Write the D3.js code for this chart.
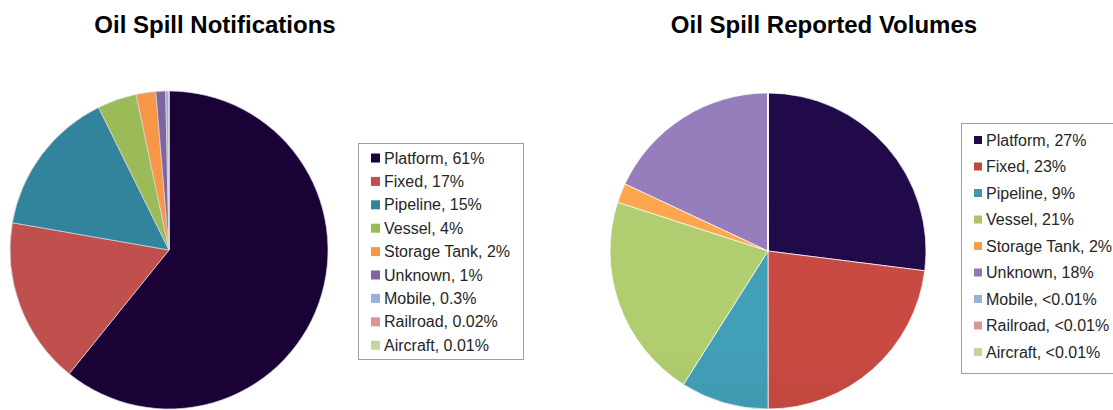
<!DOCTYPE html>
<html>
<head>
<meta charset="utf-8">
<script src="https://cdn.jsdelivr.net/npm/d3@7/dist/d3.min.js"></script>
<style>
  html, body { margin: 0; padding: 0; background: #fff; }
  svg { display: block; font-family: Arial, "Liberation Sans", sans-serif; }
</style>
</head>
<body>
<svg id="chart" width="1113" height="410"></svg>
<script>
// Spill source categories, shared by both pies
const categories = ["Platform", "Fixed", "Pipeline", "Vessel", "Storage Tank", "Unknown", "Mobile", "Railroad", "Aircraft"];

// Share of notifications (%)
const notificationValues = [61, 17, 15, 4, 2, 1, 0.3, 0.02, 0.01];
const notificationLabels = ["61%", "17%", "15%", "4%", "2%", "1%", "0.3%", "0.02%", "0.01%"];

// Share of reported volumes (%); the last three are below 0.01%
const volumeValues = [27, 23, 9, 21, 2, 18, 0.005, 0.005, 0.005];
const volumeLabels = ["27%", "23%", "9%", "21%", "2%", "18%", "<0.01%", "<0.01%", "<0.01%"];

const titles = ["Oil Spill Notifications", "Oil Spill Reported Volumes"];

const colorsLeft  = ["#1a0236", "#c0504d", "#31849b", "#9bbb59", "#f79646", "#8064a2", "#95b3d7", "#d99694", "#c3d69b"];
const colorsRight = ["#1f0a47", "#c0473f", "#3f98b0", "#a9c46a", "#f7a04c", "#9079b4", "#95b3d7", "#d99694", "#c3d69b"];

const svg = d3.select("#chart");
const defs = svg.append("defs");

const panels = [
  { values: notificationValues, labels: notificationLabels, colors: colorsLeft,
    cx: 169, cy: 250, r: 159, title: titles[0], titleX: 215,
    legend: { x: 358, y: 143, w: 165, h: 216, row0: 158, step: 23.4, sq: 9 }, shade: false },
  { values: volumeValues, labels: volumeLabels, colors: colorsRight,
    cx: 768, cy: 251, r: 158, title: titles[1], titleX: 824,
    legend: { x: 961, y: 123, w: 160, h: 250, row0: 140, step: 26.5, sq: 8 }, shade: true }
];

panels.forEach((p, pi) => {
  const pie = d3.pie().sort(null).value(d => d)
    .startAngle(0).endAngle(2 * Math.PI);
  const arc = d3.arc().innerRadius(0).outerRadius(p.r);
  const color = d3.scaleOrdinal().domain(categories).range(p.colors);

  // Vertical shading for the volumes pie
  const fillFor = (i) => {
    if (!p.shade) return color(categories[i]);
    const id = `shade-${pi}-${i}`;
    const base = d3.color(color(categories[i]));
    const g = defs.append("linearGradient")
      .attr("id", id).attr("gradientUnits", "userSpaceOnUse")
      .attr("x1", 0).attr("y1", p.cy - p.r).attr("x2", 0).attr("y2", p.cy + p.r);
    g.append("stop").attr("offset", "0%").attr("stop-color", base.brighter(0.12));
    g.append("stop").attr("offset", "100%").attr("stop-color", base.darker(0.45));
    return `url(#${id})`;
  };

  const g = svg.append("g").attr("transform", `translate(${p.cx},${p.cy})`);
  g.selectAll("path")
    .data(pie(p.values))
    .join("path")
    .attr("d", arc)
    .attr("fill", (d, i) => fillFor(i))
    .attr("stroke", p.shade ? "#ffffff" : "#d8d8e0")
    .attr("stroke-width", 0.7);

  // Title
  svg.append("text")
    .attr("x", p.titleX).attr("y", 33)
    .attr("text-anchor", "middle")
    .attr("font-weight", "bold")
    .attr("font-size", 24)
    .attr("fill", "#000")
    .text(p.title);

  // Legend
  const L = p.legend;
  svg.append("rect")
    .attr("x", L.x + 0.5).attr("y", L.y + 0.5)
    .attr("width", L.w).attr("height", L.h)
    .attr("fill", "#fff").attr("stroke", "#a0a0a0").attr("stroke-width", 1);

  const rowY = d3.scalePoint().domain(categories)
    .range([L.row0, L.row0 + L.step * (categories.length - 1)]);

  const items = svg.append("g").selectAll("g")
    .data(categories)
    .join("g")
    .attr("transform", d => `translate(${L.x + 13},${rowY(d)})`);

  items.append("rect")
    .attr("x", 0).attr("y", -L.sq / 2)
    .attr("width", L.sq).attr("height", L.sq)
    .attr("fill", d => color(d));

  items.append("text")
    .attr("x", L.sq + 4).attr("y", 0)
    .attr("dy", "0.35em")
    .attr("font-size", 16)
    .attr("fill", "#262626")
    .text((d, i) => `${d}, ${p.labels[i]}`);
});
</script>
</body>
</html>
